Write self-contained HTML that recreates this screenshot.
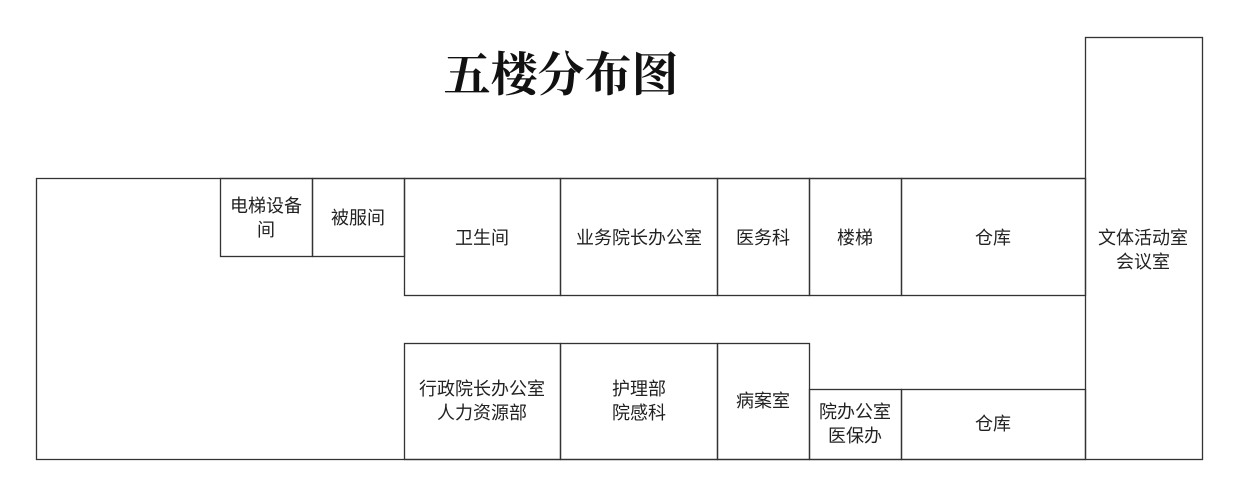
<!DOCTYPE html>
<html><head><meta charset="utf-8"><style>
html,body{margin:0;padding:0;background:#fff;}
svg{display:block;}
text{font-family:"Liberation Sans","Noto Sans CJK SC",sans-serif;font-size:18px;fill:#222;text-anchor:middle;dominant-baseline:central;}
.t{font-family:"Liberation Serif","Noto Serif CJK SC",serif;font-size:47px;font-weight:bold;fill:#111;}
</style></head><body>
<svg width="1240" height="489" viewBox="0 0 1240 489" fill="none" stroke="#333" stroke-width="1.3">
<text class="t" x="561" y="76" stroke="none">五楼分布图</text>
<rect x="1085.5" y="37.5" width="117" height="422"/>
<polyline points="1085.5,178.5 36.5,178.5 36.5,459.5 1085.5,459.5"/>
<rect x="220.5" y="178.5" width="92" height="78"/>
<rect x="312.5" y="178.5" width="92" height="78"/>
<rect x="404.5" y="178.5" width="156" height="117"/>
<rect x="560.5" y="178.5" width="157" height="117"/>
<rect x="717.5" y="178.5" width="92" height="117"/>
<rect x="809.5" y="178.5" width="92" height="117"/>
<rect x="901.5" y="178.5" width="184" height="117"/>
<rect x="404.5" y="343.5" width="156" height="116"/>
<rect x="560.5" y="343.5" width="157" height="116"/>
<rect x="717.5" y="343.5" width="92" height="116"/>
<rect x="809.5" y="389.5" width="92" height="70"/>
<rect x="901.5" y="389.5" width="184" height="70"/>
<g stroke="none">
<text x="266" y="206">电梯设备</text><text x="266" y="230">间</text>
<text x="358" y="218">被服间</text>
<text x="482" y="238">卫生间</text>
<text x="639" y="238">业务院长办公室</text>
<text x="763" y="238">医务科</text>
<text x="855" y="238">楼梯</text>
<text x="993" y="238">仓库</text>
<text x="1143" y="238">文体活动室</text><text x="1143" y="262">会议室</text>
<text x="482" y="389">行政院长办公室</text><text x="482" y="413">人力资源部</text>
<text x="639" y="389">护理部</text><text x="639" y="413">院感科</text>
<text x="763" y="401">病案室</text>
<text x="855" y="412">院办公室</text><text x="855" y="436">医保办</text>
<text x="993" y="424">仓库</text>
</g>
</svg>
</body></html>
